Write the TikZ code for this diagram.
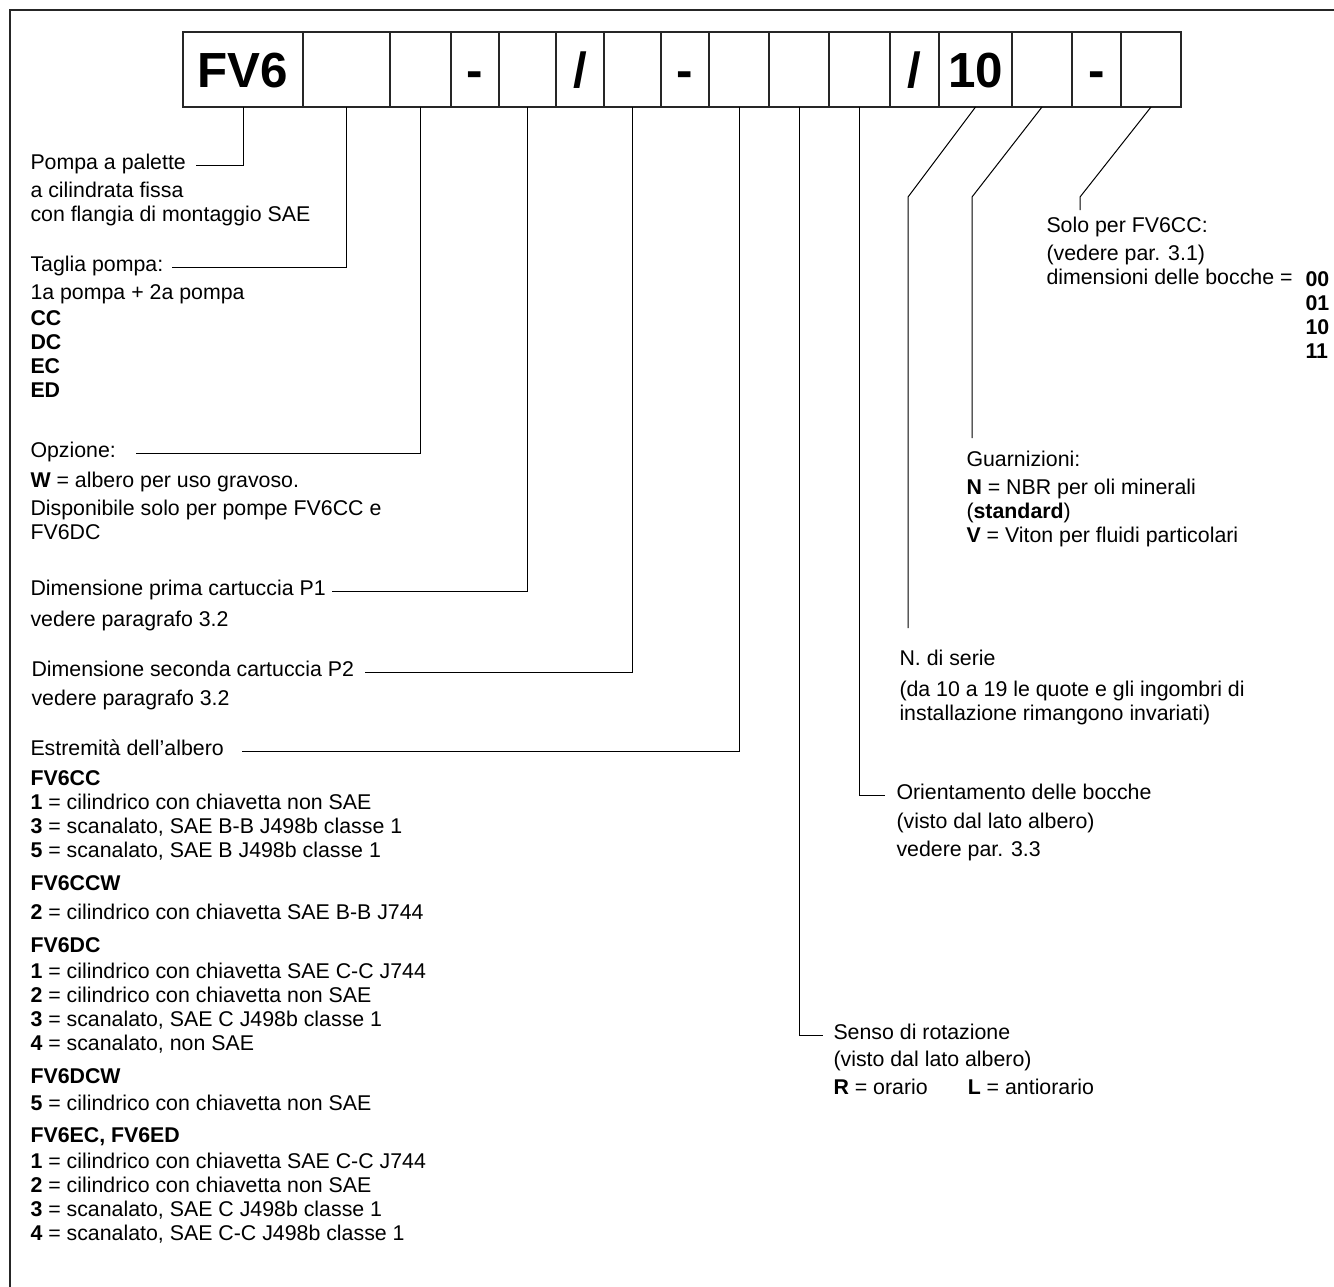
\documentclass[tikz,border=0pt]{standalone}
\usepackage{fontspec}
\setmainfont{Liberation Sans}
\usetikzlibrary{positioning}

\begin{document}
\begin{tikzpicture}[x=0.75pt,y=-0.75pt,line width=0.75pt,
  font=\fontsize{16pt}{18pt}\selectfont,
  cell/.style={draw=black!85,line width=1.1pt,minimum height=56.25pt,inner sep=0pt,outer sep=0pt,
    text height=26.5pt,text depth=0pt,font=\fontsize{37pt}{37pt}\selectfont\bfseries},
  head/.style={anchor=west,inner sep=0pt,text height=.72em,text depth=0pt},
  body/.style={anchor=north west,inner sep=0pt,align=left},
  lead/.style={line width=0.75pt}]
\useasboundingbox (0,0) rectangle (1334,1286);
% ---------- frame ----------
\draw[line width=1.5pt,black!85] (10,1300) -- (10,10) -- (1350,10);
% ---------- code boxes ----------
\node[cell,minimum width=90pt,anchor=north west] (c1) at (183,32) {FV6};
\node[cell,minimum width=65.25pt,right=0pt of c1] (c2) {};
\node[cell,minimum width=45.75pt,right=0pt of c2] (c3) {};
\node[cell,minimum width=36pt,right=0pt of c3] (c4) {-};
\node[cell,minimum width=42.75pt,right=0pt of c4] (c5) {};
\node[cell,minimum width=36pt,right=0pt of c5] (c6) {/};
\node[cell,minimum width=42.75pt,right=0pt of c6] (c7) {};
\node[cell,minimum width=36pt,right=0pt of c7] (c8) {-};
\node[cell,minimum width=45pt,right=0pt of c8] (c9) {};
\node[cell,minimum width=45pt,right=0pt of c9] (c10) {};
\node[cell,minimum width=45.75pt,right=0pt of c10] (c11) {};
\node[cell,minimum width=36.75pt,right=0pt of c11] (c12) {/};
\node[cell,minimum width=54.75pt,right=0pt of c12] (c13) {10};
\node[cell,minimum width=45pt,right=0pt of c13] (c14) {};
\node[cell,minimum width=36.75pt,right=0pt of c14] (c15) {-};
\node[cell,minimum width=45pt,right=0pt of c15] (c16) {};
% ---------- left column ----------
\node[head] (pompa) at (30,165) {Pompa a palette};
\node[body] (pompatxt) at (30,182) {a cilindrata fissa\\con flangia di montaggio SAE};
\node[head] (taglia) at (30,267) {Taglia pompa:};
\node[body] (tagliatxt) at (30,284) {1a pompa + 2a pompa\\[1.7pt]\textbf{CC}\\\textbf{DC}\\\textbf{EC}\\\textbf{ED}};
\node[head] (opz) at (30,453) {Opzione:};
\node[body] (opztxt) at (30,472) {\textbf{W} = albero per uso gravoso.\\[3pt]Disponibile solo per pompe FV6CC e\\FV6DC};
\node[head] (prima) at (30,591) {Dimensione prima cartuccia P1};
\node[body] (primatxt) at (30,611) {vedere paragrafo 3.2};
\node[head] (seconda) at (31,672) {Dimensione seconda cartuccia P2};
\node[body] (secondatxt) at (31,690) {vedere paragrafo 3.2};
\node[head] (estr) at (30,751) {Estremità dell’albero};
\node[body] (estrtxt) at (30,770) {\textbf{FV6CC}\\
\textbf{1} = cilindrico con chiavetta non SAE\\
\textbf{3} = scanalato, SAE B-B J498b classe 1\\
\textbf{5} = scanalato, SAE B J498b classe 1\\[6.75pt]
\textbf{FV6CCW}\\[3.75pt]
\textbf{2} = cilindrico con chiavetta SAE B-B J744\\[6.75pt]
\textbf{FV6DC}\\[1.5pt]
\textbf{1} = cilindrico con chiavetta SAE C-C J744\\
\textbf{2} = cilindrico con chiavetta non SAE\\
\textbf{3} = scanalato, SAE C J498b classe 1\\
\textbf{4} = scanalato, non SAE\\[6.75pt]
\textbf{FV6DCW}\\[2.25pt]
\textbf{5} = cilindrico con chiavetta non SAE\\[6pt]
\textbf{FV6EC, FV6ED}\\[1.5pt]
\textbf{1} = cilindrico con chiavetta SAE C-C J744\\
\textbf{2} = cilindrico con chiavetta non SAE\\
\textbf{3} = scanalato, SAE C J498b classe 1\\
\textbf{4} = scanalato, SAE C-C J498b classe 1};
% ---------- right column ----------
\node[head] (solo) at (1046,228) {Solo per FV6CC:};
\node[body] (solotxt) at (1046,245) {(vedere par. 3.1)\\dimensioni delle bocche =};
\node[body,font=\fontsize{16pt}{18pt}\selectfont\bfseries] (bocche) at (1305,271) {00\\01\\10\\11};
\node[head] (guarn) at (966,462) {Guarnizioni:};
\node[body] (guarntxt) at (966,479) {\textbf{N} = NBR per oli minerali\\(\textbf{standard})\\\textbf{V} = Viton per fluidi particolari};
\node[head] (serie) at (899,661) {N. di serie};
\node[body] (serietxt) at (899,681) {(da 10 a 19 le quote e gli ingombri di\\installazione rimangono invariati)};
\node[head] (orient) at (896,795) {Orientamento delle bocche};
\node[body] (orienttxt) at (896,813) {(visto dal lato albero)\\[3pt]vedere par. 3.3};
\node[head] (senso) at (833,1035) {Senso di rotazione};
\node[body] (sensotxt) at (833,1051) {(visto dal lato albero)\\[3pt]\textbf{R} = orario\hspace{30pt}\textbf{L} = antiorario};
% ---------- leaders ----------
\draw[lead] (c1.south) |- ([xshift=7.5pt]pompa.east);
\draw[lead] (c2.south) |- ([xshift=6pt]taglia.east);
\draw[lead] (c3.south) |- ([xshift=15pt]opz.east);
\draw[lead] (c5.south) |- ([xshift=4.5pt]prima.east);
\draw[lead] (c7.south) |- ([xshift=7.5pt]seconda.east);
\draw[lead] (c9.south) |- ([xshift=13.5pt]estr.east);
\draw[lead] (c10.south) |- ([xshift=-7.5pt]senso.west);
\draw[lead] (c11.south) |- ([xshift=-8pt]orient.west);
\coordinate (k13) at (908,197);
\coordinate (e13) at (908,628);
\coordinate (k14) at (972,197);
\coordinate (e14) at (972,438);
\coordinate (k16) at (1080,197);
\coordinate (e16) at (1080,210);
\draw[lead] (c13.south) -- (k13) -- (e13);
\draw[lead] (c14.south) -- (k14) -- (e14);
\draw[lead] (c16.south) -- (k16) -- (e16);
\end{tikzpicture}
\end{document}
